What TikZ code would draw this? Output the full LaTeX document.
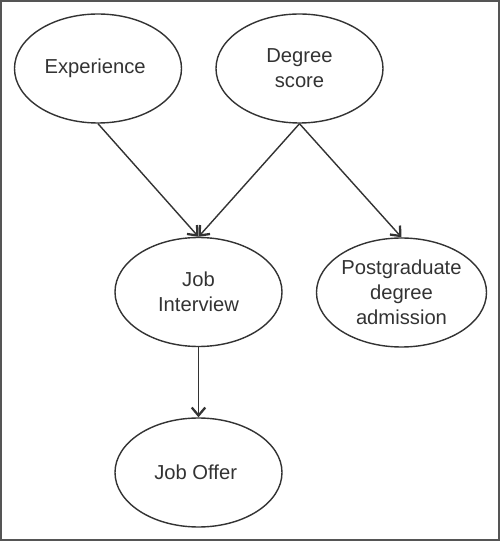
\documentclass[tikz,border=0pt]{standalone}
\usepackage{fontspec}
\setmainfont{Liberation Sans}
\usetikzlibrary{shapes.geometric,arrows.meta}
\definecolor{ink}{HTML}{333333}
\definecolor{frame}{HTML}{555555}
\tikzset{
  var/.style={draw=ink,ellipse,line width=0.8pt,minimum width=3.34cm,minimum height=2.18cm,
    inner sep=0pt,align=center,text=ink,font=\fontsize{11.5}{14.2}\selectfont},
  link/.style={draw=ink,line width=0.8pt,-{Straight Barb[length=0.16cm,width=0.27cm,line width=1.3pt]}}
}
\begin{document}
\begin{tikzpicture}
            \useasboundingbox (0,0) rectangle (10,10.82);
            \draw[frame,line width=1.1pt] (0.02,0.02) rectangle (9.98,10.80);

            \node[var] (exp) at (1.96, 9.45) { Experience };
            \node[var] (deg) at (5.99, 9.45) { Degree\\score };
            \node[var] (intv) at (3.97, 4.98) { Job\\Interview };
            \node[var] (pgd) at (8.03, 4.97) { Postgraduate\\degree\\admission };
            \node[var] (offer) at (3.97, 1.37) { Job Offer };

            \draw[link] (exp.south) -- (intv.north);
            \draw[link] (deg.south) -- (intv.north);
            \draw[link] (deg.south) -- (pgd.north);
            \draw[link] (intv.south) -- (offer.north);

        \end{tikzpicture}
\end{document}
